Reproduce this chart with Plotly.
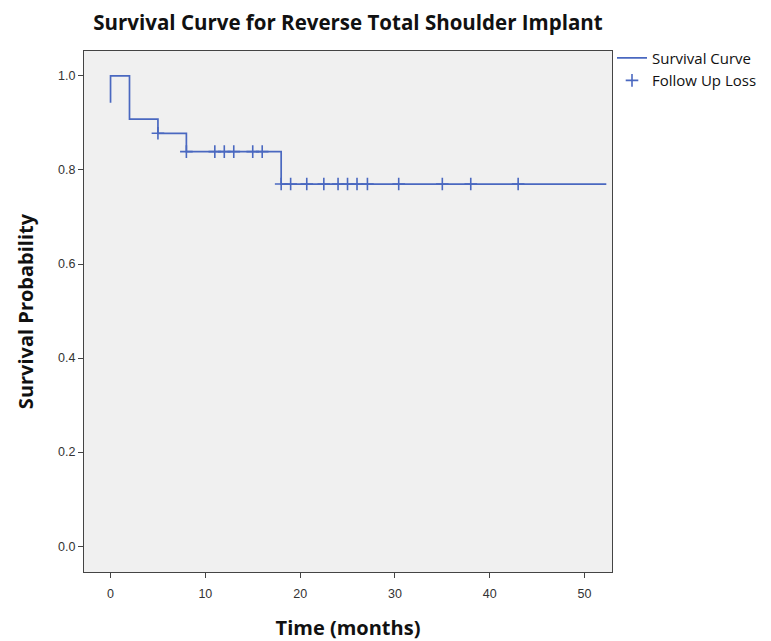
import plotly.graph_objects as go

# Kaplan-Meier step curve (time in months, survival probability)
curve_time = [0, 0, 2, 5, 8, 18, 52.3]
curve_surv = [0.943, 1.0, 0.908, 0.878, 0.839, 0.770, 0.770]

# Censored observations (follow-up loss)
censor_time = [5, 8, 11, 12, 13, 15, 16, 18, 19, 20.7, 22.5, 24, 25, 26, 27.1, 30.4, 35, 38, 43]
censor_surv = [0.878, 0.839, 0.839, 0.839, 0.839, 0.839, 0.839,
               0.770, 0.770, 0.770, 0.770, 0.770, 0.770, 0.770, 0.770, 0.770, 0.770, 0.770, 0.770]

x_ticks = [0, 10, 20, 30, 40, 50]
y_ticks = [0.0, 0.2, 0.4, 0.6, 0.8, 1.0]
y_tick_labels = ["0.0", "0.2", "0.4", "0.6", "0.8", "1.0"]

color = "#4a68c0"
font_family = "Open Sans, Noto Sans, sans-serif"
tick_family = "Liberation Sans, Arial, sans-serif"

fig = go.Figure()
fig.add_trace(go.Scatter(
    x=curve_time, y=curve_surv, mode="lines", line_shape="hv",
    line=dict(color=color, width=1.7), name="Survival Curve"))
fig.add_trace(go.Scatter(
    x=censor_time, y=censor_surv, mode="markers",
    marker=dict(symbol="cross-thin", size=9, line=dict(color=color, width=1.6), color=color),
    name="Follow Up Loss"))

fig.update_layout(
    width=771, height=641,
    margin=dict(l=84, r=159, t=51, b=69, autoexpand=False),
    paper_bgcolor="white", plot_bgcolor="#f0f0f0",
    font=dict(family=font_family, color="#222"),
    title=dict(text="<b>Survival Curve for Reverse Total Shoulder Implant</b>",
               x=(84 + 612) / 2 / 771, xanchor="center", y=1 - 23 / 641, yanchor="middle",
               font=dict(size=20.5, color="#111")),
    legend=dict(x=1.0, xanchor="left", y=1.018, yanchor="top",
                font=dict(size=15, color="#111"), bgcolor="rgba(0,0,0,0)",
                itemwidth=30, tracegroupgap=0),
    showlegend=True,
)
fig.update_xaxes(
    range=[-2.8, 52.9], tickvals=x_ticks, ticks="outside", ticklen=5, tickcolor="#444",
    showline=True, linecolor="#444", linewidth=1.3, mirror=True, showgrid=False, zeroline=False,
    automargin=False, ticklabelstandoff=5,
    tickfont=dict(size=12.5, color="#333", family=tick_family),
    title=dict(text="<b>Time (months)</b>", font=dict(size=20, color="#111"), standoff=20))
fig.update_yaxes(
    range=[-0.055, 1.053], tickvals=y_ticks, ticktext=y_tick_labels, ticks="outside", ticklen=5,
    tickcolor="#444", showline=True, linecolor="#444", linewidth=1.3, mirror=True,
    showgrid=False, zeroline=False, automargin=False,
    tickfont=dict(size=12.5, color="#333", family=tick_family),
    title=dict(text="<b>Survival Probability</b>", font=dict(size=20, color="#111"), standoff=18))

fig.write_html("out.html", config={"displayModeBar": False})

# remove the browser's default page margin so the figure sits at the window origin
with open("out.html", "r", encoding="utf-8") as f:
    html = f.read()
html = html.replace("<body>", '<body style="margin:0;padding:0;">', 1)
with open("out.html", "w", encoding="utf-8") as f:
    f.write(html)
